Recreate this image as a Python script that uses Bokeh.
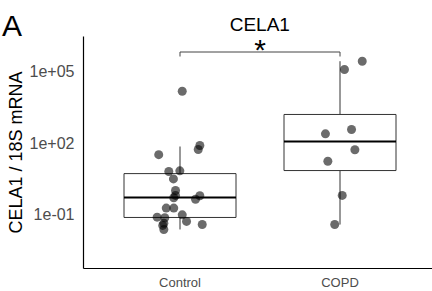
import numpy as np
from bokeh.plotting import figure
from bokeh.models import Range1d, FixedTicker, ColumnDataSource
from bokeh.core.properties import value
from bokeh.embed import file_html
from bokeh.resources import INLINE

# ---- data ----
categories = ["Control", "COPD"]
control_values = [14000, 75, 51, 31, 6.1, 6.5, 3.0, 0.98, 0.61, 0.49, 0.59, 0.42,
                  0.18, 0.18, 0.094, 0.075, 0.071, 0.050, 0.037, 0.042, 0.034, 0.023]
control_jitter = [0.014, 0.124, 0.114, -0.133, -0.07, -0.001, -0.041, -0.028, -0.028,
                  -0.039, 0.124, 0.097, -0.086, -0.039, 0.014, -0.143, -0.095, 0.041,
                  0.139, -0.101, -0.108, -0.101]
copd_values = [252000, 113000, 350, 231, 50, 16.5, 0.61, 0.037]
copd_jitter = [0.139, 0.028, 0.072, -0.091, 0.093, -0.076, 0.014, -0.033]
box_q1 = [0.073, 6.7]
box_median = [0.50, 110]
box_q3 = [5.0, 1490]
whisker_low = [0.023, 0.037]
whisker_high = [68, 252000]
y_tick_values = [0.1, 100, 100000]
y_tick_labels = ["1e-01", "1e+02", "1e+05"]
title_text = "CELA1"
panel_text = "A"
y_label = "CELA1 / 18S mRNA"
sig_text = "*"

# ---- layout helpers (pixel -> data for annotation placement) ----
W, H = 432, 291
def xd(X):
    return 1 + (X - 179.5) / 160.0
def yd(Y):
    return 10 ** (2 + (142.0 - Y) / 23.9)

FONT = "Liberation Sans"
BOX_W = 0.7
x_left, x_right = xd(83), xd(W)
y_bottom, y_top = yd(268), yd(36)
sig_level, sig_tick = yd(51.5), yd(56)

p = figure(width=W, height=H, output_backend="svg", toolbar_location=None,
           y_axis_type="log",
           x_range=Range1d(xd(0), xd(W)),
           y_range=Range1d(yd(H), yd(0)),
           min_border=0, min_border_left=0, min_border_right=0,
           min_border_top=0, min_border_bottom=0)
p.title.visible = False
p.outline_line_color = None
p.xgrid.visible = False
p.ygrid.visible = False
p.background_fill_color = "white"
p.border_fill_color = "white"

pos = [i + 1 for i in range(len(categories))]

# panel axis lines
p.segment(x0=[x_left, x_left], y0=[y_bottom, y_bottom], x1=[x_left, x_right], y1=[y_top, y_bottom],
          line_color="black", line_width=1.2)

# boxes
box_src = ColumnDataSource(dict(x=pos, q1=box_q1, q3=box_q3, med=box_median,
                                lo=whisker_low, hi=whisker_high,
                                left=[v - BOX_W / 2 for v in pos],
                                right=[v + BOX_W / 2 for v in pos]))
p.segment(x0="x", y0="q3", x1="x", y1="hi", source=box_src, line_color="#333333", line_width=1)
p.segment(x0="x", y0="q1", x1="x", y1="lo", source=box_src, line_color="#333333", line_width=1)
p.quad(left="left", right="right", bottom="q1", top="q3", source=box_src,
       fill_color="white", line_color="#333333", line_width=1)
p.segment(x0="left", y0="med", x1="right", y1="med", source=box_src,
          line_color="black", line_width=2)

# points
px = [pos[0] + j for j in control_jitter] + [pos[1] + j for j in copd_jitter]
py = list(control_values) + list(copd_values)
p.scatter(px, py, size=9, fill_color="black", fill_alpha=0.58, line_color=None)

# significance bracket
p.line([pos[0], pos[0], pos[1], pos[1]], [sig_tick, sig_level, sig_level, sig_tick],
       line_color="#444444", line_width=1)
p.text(x=[(pos[0] + pos[1]) / 2], y=[sig_level], text=[sig_text],
       text_font=value(FONT), text_font_size="30px", text_align="center",
       text_baseline="alphabetic", y_offset=-2.5, text_color="black")

# title, panel letter, y-axis title
p.text(x=[xd(259.3)], y=[yd(24)], text=[title_text], text_font=value(FONT),
       text_font_size="19px", text_align="center", text_baseline="alphabetic",
       text_color="black")
p.text(x=[xd(1.5)], y=[yd(25)], text=[panel_text], text_font=value(FONT),
       text_font_size="30px", text_align="left", text_baseline="alphabetic",
       text_color="black")
p.text(x=[xd(15)], y=[yd(152)], text=[y_label], text_font=value(FONT),
       text_font_size="18px", text_align="center", text_baseline="middle",
       angle=np.pi / 2, text_color="black")

# axes (drawn at fixed locations on the panel edges)
p.xaxis.fixed_location = y_bottom
p.yaxis.fixed_location = x_left
p.xaxis.ticker = FixedTicker(ticks=pos)
p.xaxis.major_label_overrides = {v: c for v, c in zip(pos, categories)}
p.yaxis.ticker = FixedTicker(ticks=y_tick_values)
p.yaxis.major_label_overrides = {v: t for v, t in zip(y_tick_values, y_tick_labels)}
for ax in (p.xaxis, p.yaxis):
    ax.major_tick_out = 0
    ax.major_tick_in = 0
    ax.minor_tick_out = 0
    ax.minor_tick_in = 0
    ax.axis_line_color = None
    ax.major_label_text_font = FONT
    ax.major_label_text_color = "#4d4d4d"
p.xaxis.major_label_text_font_size = "13px"
p.xaxis.major_label_standoff = 6
p.yaxis.major_label_text_font_size = "16px"
p.yaxis.major_label_standoff = 9

open("out.html", "w").write(file_html(p, INLINE))
